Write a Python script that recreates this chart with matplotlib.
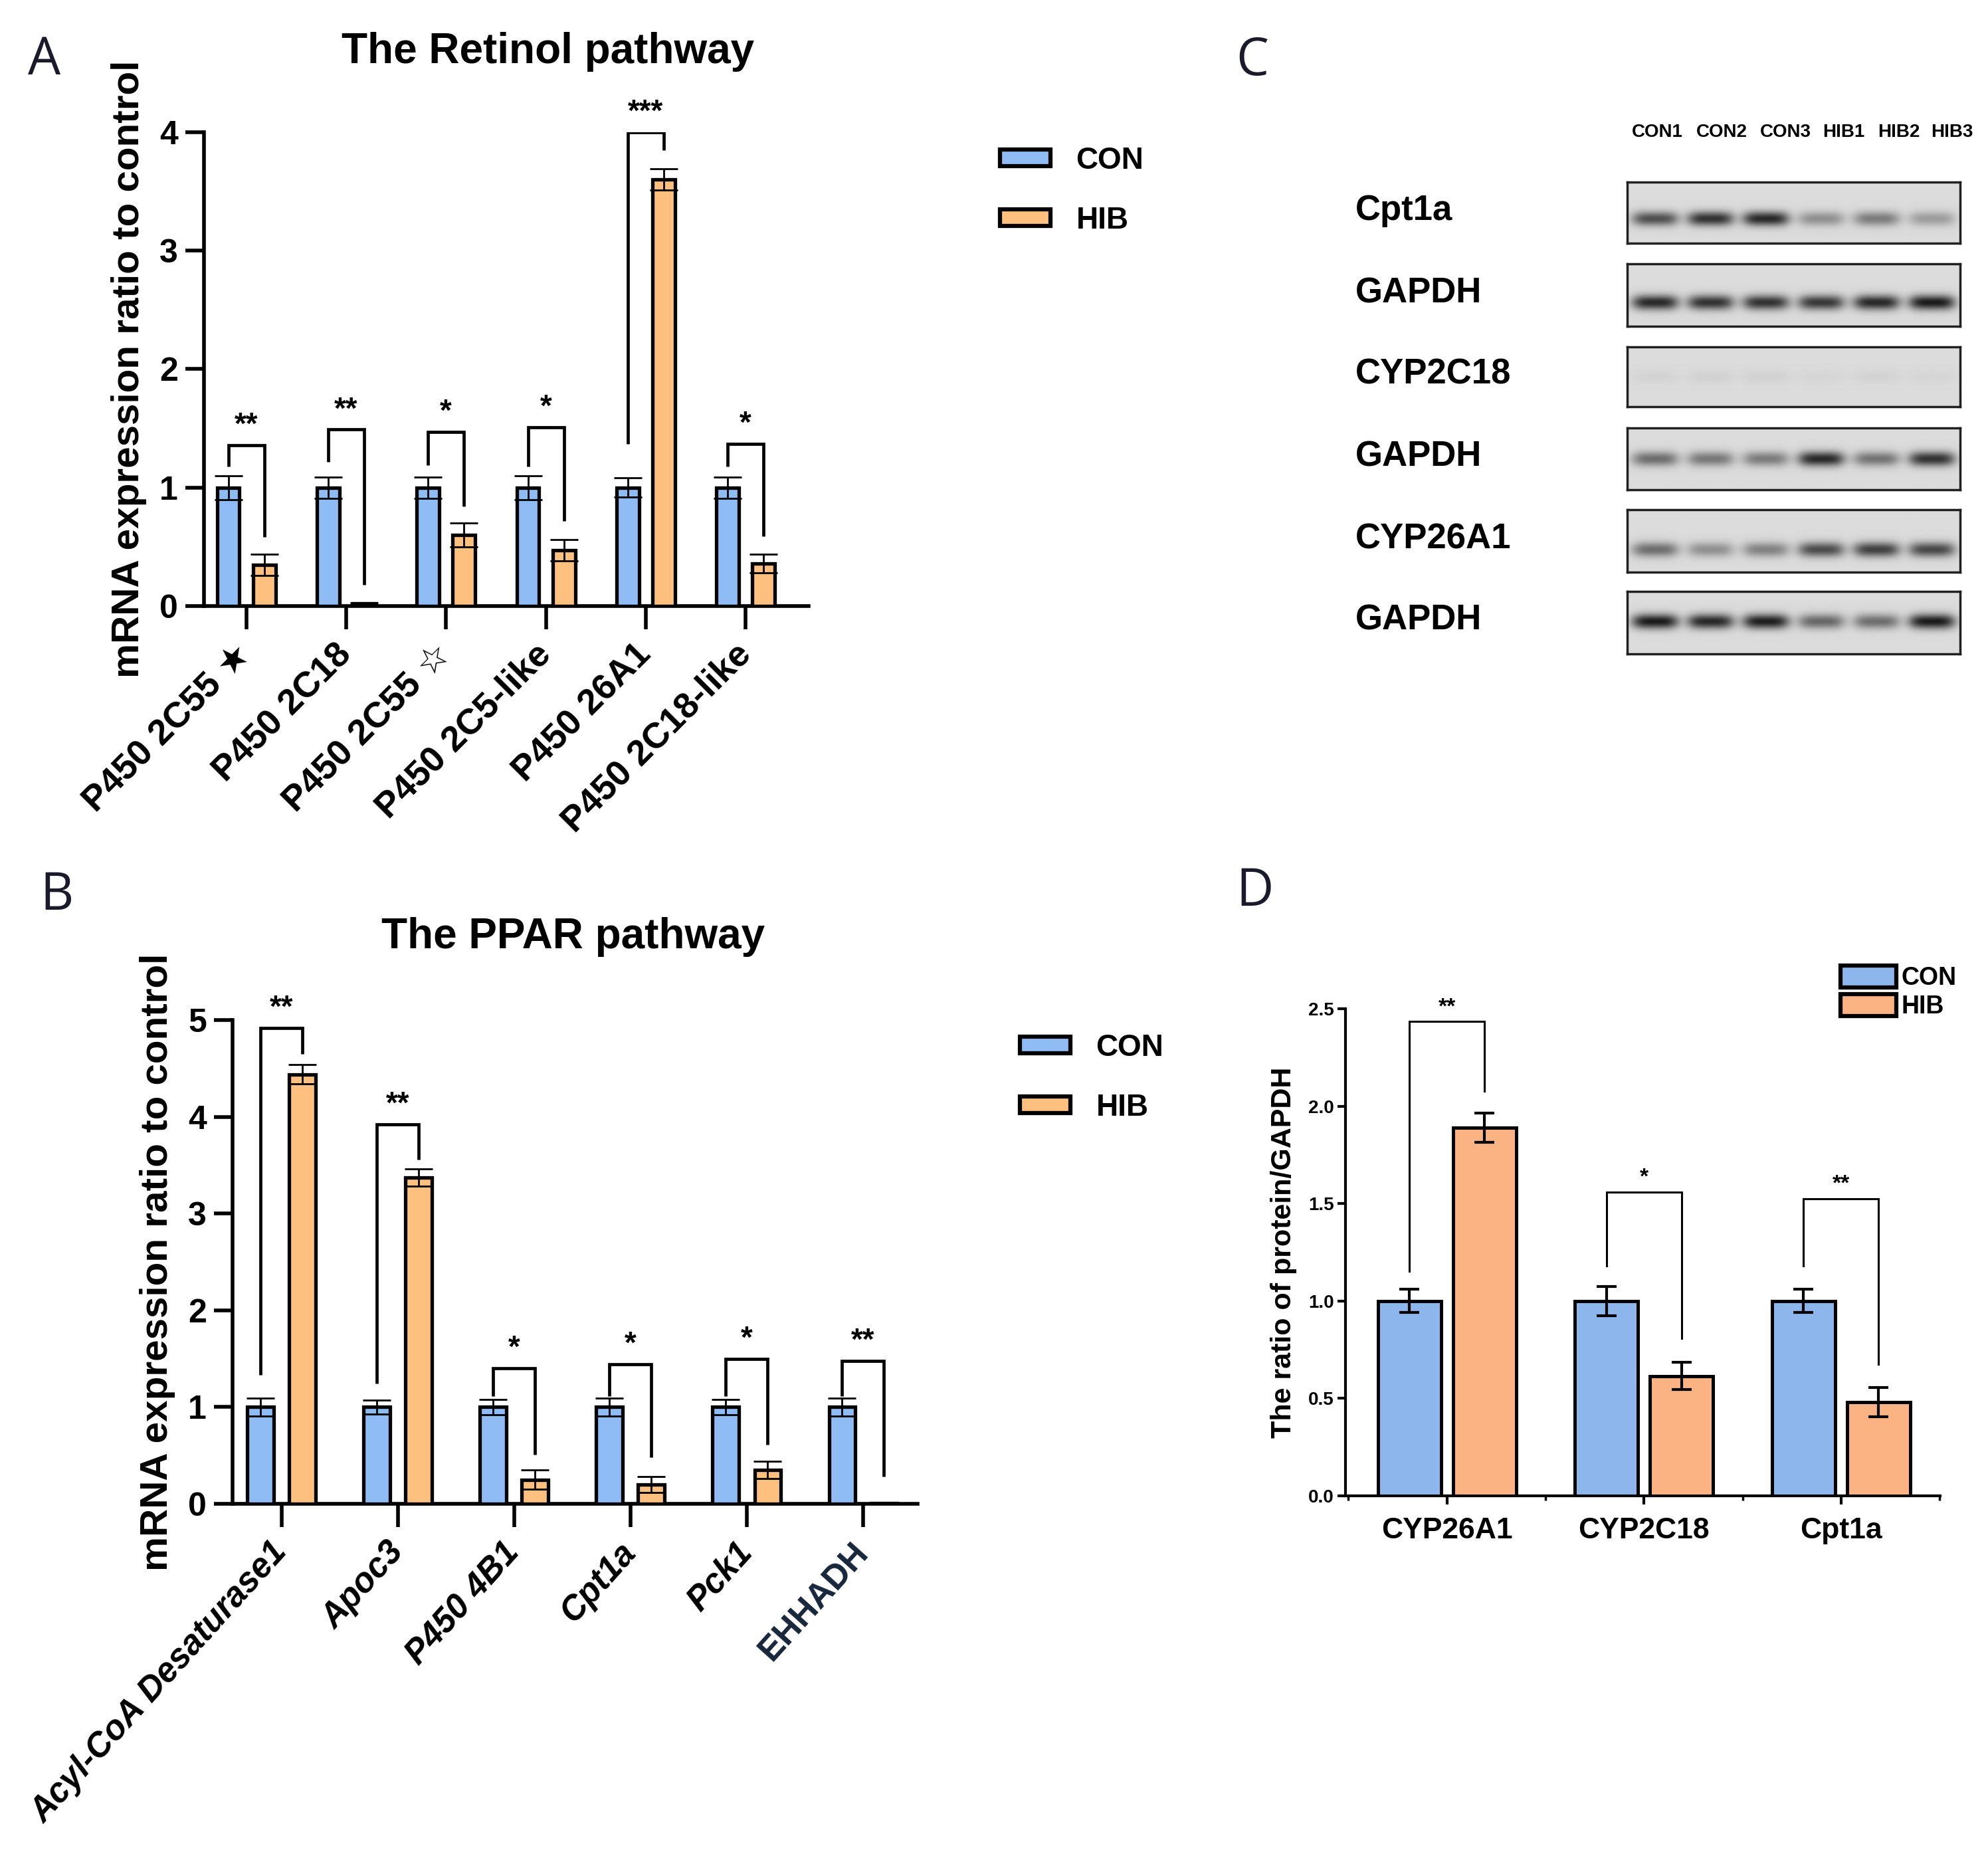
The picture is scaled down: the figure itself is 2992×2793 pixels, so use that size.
import numpy as np
import matplotlib
matplotlib.use('Agg')
import matplotlib.pyplot as plt
from matplotlib.patches import Patch

plt.rcParams['font.family'] = ['Liberation Sans', 'DejaVu Sans']
plt.rcParams['font.weight'] = 'bold'

# ---------------- data ----------------
# Panel A: The Retinol pathway
a_genes = ['P450 2C55 \u2605', 'P450 2C18', 'P450 2C55 \u2606', 'P450 2C5-like', 'P450 26A1', 'P450 2C18-like']
a_con = [1.0, 1.0, 1.0, 1.0, 1.0, 1.0]
a_con_err = [0.10, 0.09, 0.09, 0.10, 0.08, 0.09]
a_hib = [0.35, 0.02, 0.60, 0.47, 3.60, 0.36]
a_hib_err = [0.09, 0.01, 0.10, 0.09, 0.09, 0.08]
a_sig = ['**', '**', '*', '*', '***', '*']
a_br_top = [1.36, 1.49, 1.47, 1.51, 4.00, 1.37]
a_br_left = [1.18, 1.22, 1.19, 1.18, 1.37, 1.18]
a_br_right = [0.585, 0.18, 0.84, 0.72, 3.85, 0.59]

# Panel B: The PPAR pathway
b_genes = ['Acyl-CoA Desaturase1', 'Apoc3', 'P450 4B1', 'Cpt1a', 'Pck1', 'EHHADH']
b_con = [1.0, 1.0, 1.0, 1.0, 1.0, 1.0]
b_con_err = [0.09, 0.07, 0.08, 0.09, 0.08, 0.09]
b_hib = [4.44, 3.37, 0.25, 0.20, 0.35, 0.01]
b_hib_err = [0.10, 0.09, 0.10, 0.08, 0.09, 0.005]
b_sig = ['**', '**', '*', '*', '*', '**']
b_br_top = [4.92, 3.92, 1.40, 1.44, 1.50, 1.48]
b_br_left = [1.33, 1.24, 1.11, 1.11, 1.11, 1.11]
b_br_right = [4.65, 3.56, 0.51, 0.48, 0.61, 0.28]

# Panel C: western blots (relative band intensity per lane)
c_lanes = ['CON1', 'CON2', 'CON3', 'HIB1', 'HIB2', 'HIB3']
c_rows = ['Cpt1a', 'GAPDH', 'CYP2C18', 'GAPDH', 'CYP26A1', 'GAPDH']
c_int = [
    [0.70, 0.85, 0.90, 0.38, 0.48, 0.32],
    [0.90, 0.85, 0.85, 0.82, 0.90, 0.97],
    [0.04, 0.05, 0.05, 0.03, 0.04, 0.03],
    [0.55, 0.50, 0.48, 0.90, 0.52, 0.85],
    [0.55, 0.38, 0.45, 0.72, 0.78, 0.74],
    [0.97, 0.90, 0.95, 0.58, 0.55, 0.97],
]

# Panel D: protein ratio
d_genes = ['CYP26A1', 'CYP2C18', 'Cpt1a']
d_con = [1.0, 1.0, 1.0]
d_con_err = [0.06, 0.075, 0.06]
d_hib = [1.89, 0.615, 0.48]
d_hib_err = [0.075, 0.07, 0.075]
d_sig = ['**', '*', '**']
d_br_top = [2.435, 1.56, 1.525]
d_br_left = [1.154, 1.18, 1.18]
d_br_right = [2.076, 0.81, 0.675]

groups = ['CON', 'HIB']

BLUE = '#8fbcf4'
ORANGE = '#fdc07e'
BLUE_D = '#8db7ec'
ORANGE_D = '#fbb383'

W, H = 2992, 2793
fig = plt.figure(figsize=(W / 100, H / 100), dpi=100)


def fx(px):
    return px / W


def fy(py):
    return 1 - py / H


def gp_panel(ax, genes, con, con_err, hib, hib_err, sig, top, left, right,
             xlim, ylim, yticks, italic, colors_lbl, rot, xfs):
    x = np.arange(len(genes))
    off = 0.18
    w = 0.225
    ekw = dict(ecolor='black', elinewidth=2.0, capsize=15, capthick=2.0)
    ax.bar(x - off, con, w, color=BLUE, edgecolor='black', linewidth=3.8,
           yerr=con_err, error_kw=ekw, zorder=3)
    ax.bar(x + off, hib, w, color=ORANGE, edgecolor='black', linewidth=3.8,
           yerr=hib_err, error_kw=ekw, zorder=3)
    for i in range(len(genes)):
        ax.plot([x[i] - off, x[i] - off, x[i] + off, x[i] + off],
                [left[i], top[i], top[i], right[i]], color='black', lw=3.4,
                solid_joinstyle='miter', solid_capstyle='butt', zorder=4)
        ax.text(x[i], top[i] + 0.04 * (ylim[1] / 4), sig[i], ha='center', va='bottom',
                fontsize=33, fontweight='bold')
    ax.set_xlim(*xlim)
    ax.set_ylim(*ylim)
    ax.set_yticks(yticks)
    ax.set_yticklabels([str(t) for t in yticks], fontsize=36, fontweight='bold')
    ax.set_xticks(x)
    ax.set_xticklabels(genes, rotation=rot, ha='right', va='center',
                       rotation_mode='anchor', fontsize=xfs, fontweight='bold')
    for lbl, it, c in zip(ax.get_xticklabels(), italic, colors_lbl):
        lbl.set_fontstyle('italic' if it else 'normal')
        lbl.set_color(c)
    for s in ['top', 'right']:
        ax.spines[s].set_visible(False)
    for s in ['left', 'bottom']:
        ax.spines[s].set_linewidth(4.0)
    ax.tick_params(axis='x', length=25, width=4.0, pad=22)
    ax.tick_params(axis='y', length=20, width=4.0, pad=8)
    ax.set_ylabel('mRNA expression ratio to control', fontsize=42, fontweight='bold',
                  labelpad=14)


# ---------------- Panel A ----------------
axA = fig.add_axes([fx(307), fy(912), fx(1217 - 307), (912 - 199) / H])
gp_panel(axA, a_genes, a_con, a_con_err, a_hib, a_hib_err, a_sig, a_br_top,
         a_br_left, a_br_right, (-0.423, 5.63), (0, 4), [0, 1, 2, 3, 4],
         [False] * 6, ['black'] * 6, 45, 39)
fig.text(fx(825), fy(78), 'The Retinol pathway', ha='center', va='center',
         fontsize=46, fontweight='bold')

handles = [Patch(facecolor=BLUE, edgecolor='black', linewidth=4.5, label='CON'),
           Patch(facecolor=ORANGE, edgecolor='black', linewidth=4.5, label='HIB')]
fig.legend(handles=handles, loc='center left', bbox_to_anchor=(fx(1505), fy(287)),
           frameon=False, handlelength=1.65, handleheight=0.45,
           labelspacing=1.0, handletextpad=0.85, borderpad=0, borderaxespad=0,
           prop=dict(weight='bold', size=33))

# ---------------- Panel B ----------------
axB = fig.add_axes([fx(350), fy(2263), fx(1381 - 350), (2263 - 1535) / H])
gp_panel(axB, b_genes, b_con, b_con_err, b_hib, b_hib_err, b_sig, b_br_top,
         b_br_left, b_br_right, (-0.42, 5.47), (0, 5), [0, 1, 2, 3, 4, 5],
         [True, True, True, True, True, False],
         ['black', 'black', 'black', 'black', 'black', '#17263a'], 48, 37)
fig.text(fx(863), fy(1410), 'The PPAR pathway', ha='center', va='center',
         fontsize=46, fontweight='bold')
fig.legend(handles=handles, loc='center left', bbox_to_anchor=(fx(1535), fy(1622)),
           frameon=False, handlelength=1.65, handleheight=0.45,
           labelspacing=1.0, handletextpad=0.85, borderpad=0, borderaxespad=0,
           prop=dict(weight='bold', size=33))

# ---------------- Panel C (blots) ----------------
strip_y = [(274, 366), (397, 491), (522, 612), (644, 737), (767, 861), (890, 984)]
band_pos = [0.60, 0.62, 0.50, 0.50, 0.64, 0.48]
x0, x1 = 2449, 2950
nx, ny = 360, 70
xs = np.linspace(0, 6, nx)
ys = np.linspace(0, 1, ny)
for r, (yt, yb) in enumerate(strip_y):
    ax = fig.add_axes([fx(x0), fy(yb), fx(x1 - x0), (yb - yt) / H])
    img = np.full((ny, nx), 0.86)
    py = np.exp(-((ys - band_pos[r]) / 0.12) ** 2)
    dens = np.zeros(nx)
    for i, v in enumerate(c_int[r]):
        dens += v * np.exp(-np.abs((xs - (i + 0.5)) / 0.42) ** 4)
    img = img - 0.78 * np.outer(py, dens)
    ax.imshow(np.clip(img, 0, 1), cmap='gray', vmin=0, vmax=1, aspect='auto',
              interpolation='bilinear', extent=(0, 6, 1, 0))
    ax.set_xticks([])
    ax.set_yticks([])
    for s in ax.spines.values():
        s.set_linewidth(2.5)
        s.set_color('#202020')
    fig.text(fx(2040), fy((yt + yb) / 2 - 3), c_rows[r], ha='left', va='center',
             fontsize=38, fontweight='bold')
lane_x = [2494, 2591, 2687, 2775, 2858, 2938]
for lx, lab in zip(lane_x, c_lanes):
    fig.text(fx(lx), fy(199), lab, ha='center', va='center', fontsize=20,
             fontweight='bold')

# ---------------- Panel D ----------------
axD = fig.add_axes([fx(2025), fy(2251), fx(2920 - 2025), (2251 - 1518) / H])
xd = np.arange(len(d_genes))
ekw = dict(ecolor='black', elinewidth=3.0, capsize=11, capthick=3.0)
axD.bar(xd - 0.19, d_con, 0.32, color=BLUE_D, edgecolor='black', linewidth=3.6,
        yerr=d_con_err, error_kw=ekw, zorder=3)
axD.bar(xd + 0.19, d_hib, 0.32, color=ORANGE_D, edgecolor='black', linewidth=3.6,
        yerr=d_hib_err, error_kw=ekw, zorder=3)
for i in range(len(d_genes)):
    axD.plot([xd[i] - 0.19, xd[i] - 0.19, xd[i] + 0.19, xd[i] + 0.19],
             [d_br_left[i], d_br_top[i], d_br_top[i], d_br_right[i]],
             color='black', lw=2.2, solid_joinstyle='miter', zorder=4)
    axD.text(xd[i], d_br_top[i] + 0.02, d_sig[i], ha='center', va='bottom',
             fontsize=24, fontweight='bold')
axD.set_xlim(-0.515, 2.503)
axD.set_ylim(0, 2.5)
axD.set_yticks([0.0, 0.5, 1.0, 1.5, 2.0, 2.5])
axD.set_yticklabels(['0.0', '0.5', '1.0', '1.5', '2.0', '2.5'], fontsize=20,
                    fontweight='bold')
axD.set_xticks(xd)
axD.set_xticklabels(d_genes, fontsize=32, fontweight='bold')
axD.set_xticks([-0.5, 0.5, 1.5, 2.5], minor=True)
for s in ['top', 'right']:
    axD.spines[s].set_visible(False)
for s in ['left', 'bottom']:
    axD.spines[s].set_linewidth(3.0)
axD.tick_params(axis='both', which='major', length=9, width=3.0)
axD.tick_params(axis='x', which='major', pad=14)
axD.tick_params(axis='x', which='minor', length=5, width=2.5)
axD.set_ylabel('The ratio of protein/GAPDH', fontsize=31, fontweight='bold', labelpad=12)
handlesD = [Patch(facecolor=BLUE_D, edgecolor='black', linewidth=4.5, label='CON'),
            Patch(facecolor=ORANGE_D, edgecolor='black', linewidth=4.5, label='HIB')]
fig.legend(handles=handlesD, loc='center left', bbox_to_anchor=(fx(2770), fy(1493)),
           frameon=False, handlelength=2.25, handleheight=1.0,
           labelspacing=0.15, handletextpad=0.2, borderpad=0, borderaxespad=0,
           prop=dict(weight='bold', size=27))

# ---------------- panel letters ----------------
for (px, py), L in zip([(67, 92), (86, 1348), (1885, 92), (1889, 1343)], 'ABCD'):
    fig.text(fx(px), fy(py), L, ha='center', va='center', fontsize=56,
             fontweight='normal', family=['Open Sans', 'DejaVu Sans'], color='#1a1a2a')

fig.savefig('out.png', dpi=100, facecolor='white')
